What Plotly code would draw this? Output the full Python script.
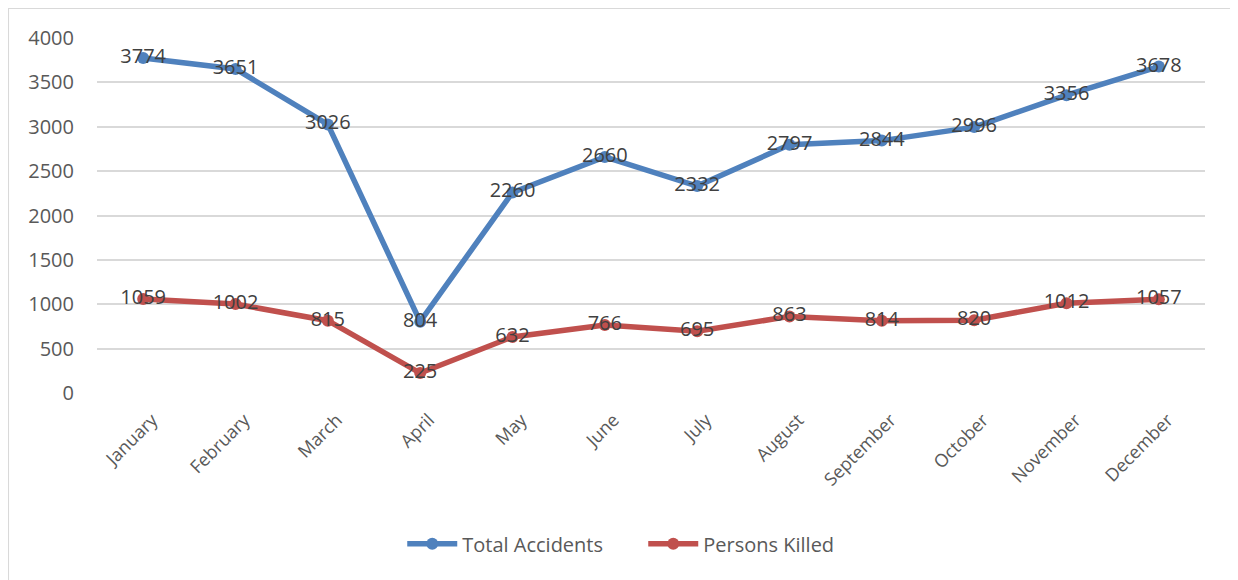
import plotly.graph_objects as go

months = ["January", "February", "March", "April", "May", "June", "July",
          "August", "September", "October", "November", "December"]
total_accidents = [3774, 3651, 3026, 804, 2260, 2660, 2332, 2797, 2844, 2996, 3356, 3678]
persons_killed = [1059, 1002, 815, 225, 632, 766, 695, 863, 814, 820, 1012, 1057]
y_ticks = [0, 500, 1000, 1500, 2000, 2500, 3000, 3500, 4000]

label_font = dict(family="Open Sans, Liberation Sans, sans-serif", size=20, color="#404040")

fig = go.Figure()
fig.add_trace(go.Scatter(
    x=months, y=total_accidents, name="Total Accidents",
    mode="lines+markers+text", text=[str(v) for v in total_accidents],
    textposition="middle center", textfont=label_font,
    line=dict(color="#4F81BD", width=5.5), marker=dict(color="#4F81BD", size=12),
))
fig.add_trace(go.Scatter(
    x=months, y=persons_killed, name="Persons Killed",
    mode="lines+markers+text", text=[str(v) for v in persons_killed],
    textposition="middle center", textfont=label_font,
    line=dict(color="#C0504D", width=5.5), marker=dict(color="#C0504D", size=12),
))

fig.update_layout(
    width=1230, height=572,
    margin=dict(l=89, r=33, t=30, b=187),
    paper_bgcolor="white", plot_bgcolor="white",
    font=dict(family="Open Sans, Liberation Sans, sans-serif", color="#595959"),
    showlegend=True,
    legend=dict(orientation="h", x=0.493, xanchor="center", y=-0.37, yanchor="top",
                font=dict(size=20, color="#595959"), entrywidth=176, itemwidth=50),
    xaxis=dict(type="category", range=[-0.5, 11.5], showgrid=False, zeroline=False,
               showline=False, ticks="", tickangle=-45, ticklabelstandoff=12,
               ticklabelshift=9,
               tickfont=dict(size=18, color="#595959")),
    yaxis=dict(range=[0, 4000], tickvals=y_ticks, showgrid=True, gridcolor="#D9D9D9",
               gridwidth=2, zeroline=False, showline=False, ticks="",
               ticklabelstandoff=22,
               tickfont=dict(size=20, color="#595959")),
    shapes=[dict(type="rect", xref="paper", yref="paper",
                 x0=-0.0803, x1=1.0253, y0=-0.6, y1=1.0845,
                 line=dict(color="#D9D9D9", width=2), layer="below")],
)

fig.write_html("out.html")
